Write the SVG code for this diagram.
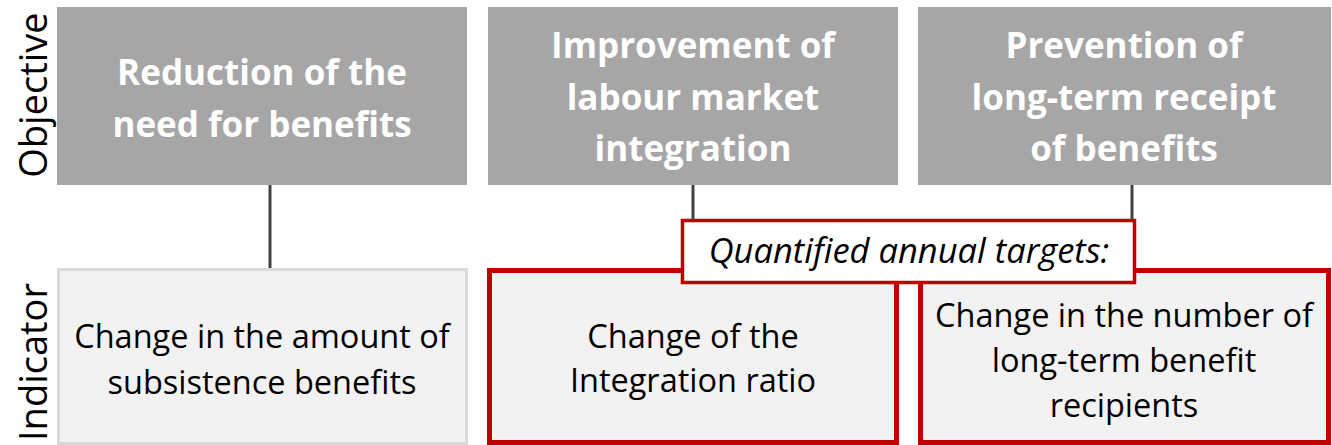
<svg xmlns="http://www.w3.org/2000/svg" width="1332" height="445" viewBox="0 0 1332 445">
<style>
.obj{fill:#a6a6a6}
.objt{font-family:"Open Sans",Lato,sans-serif;font-weight:bold;font-size:35px;fill:#ffffff;text-anchor:middle}
.ind{fill:#f2f2f2}
.indt{font-family:"Open Sans",Lato,sans-serif;font-size:32.5px;fill:#000000;text-anchor:middle}
.qt{font-family:"Open Sans",Lato,sans-serif;font-size:34.5px;font-style:italic;fill:#000000;text-anchor:middle}
.side{font-family:"Open Sans",Lato,sans-serif;font-size:38px;fill:#000000;text-anchor:middle}
.red{stroke:#c00000;stroke-width:5}
.conn{stroke:#404040;stroke-width:3;fill:none}
</style>
<rect width="1332" height="445" fill="#ffffff"/>
<text class="side" transform="translate(47,95) rotate(-90)">Objective</text>
<text class="side" transform="translate(47,362) rotate(-90)">Indicator</text>
<g id="connectors">
<line class="conn" x1="270" y1="185" x2="270" y2="268"/>
<line class="conn" x1="693" y1="185" x2="693" y2="219"/>
<line class="conn" x1="1132" y1="185" x2="1132" y2="219"/>
</g>
<g id="obj1">
<rect class="obj" x="57" y="7" width="410" height="178"/>
<text class="objt" x="262" y="85">Reduction of the</text>
<text class="objt" x="262" y="137">need for benefits</text>
</g>
<g id="obj2">
<rect class="obj" x="488" y="7" width="410" height="178"/>
<text class="objt" x="693" y="58">Improvement of</text>
<text class="objt" x="693" y="110">labour market</text>
<text class="objt" x="693" y="161">integration</text>
</g>
<g id="obj3">
<rect class="obj" x="918" y="7" width="413" height="178"/>
<text class="objt" x="1124" y="58">Prevention of</text>
<text class="objt" x="1124" y="110">long-term receipt</text>
<text class="objt" x="1124" y="161">of benefits</text>
</g>
<g id="ind1">
<rect class="ind" x="58.5" y="269.5" width="408" height="174" stroke="#d9d9d9" stroke-width="3"/>
<text class="indt" x="262" y="348">Change in the amount of</text>
<text class="indt" x="262" y="394">subsistence benefits</text>
</g>
<g id="ind2">
<rect class="ind red" x="489.5" y="270.5" width="407" height="172"/>
<text class="indt" x="693" y="348">Change of the</text>
<text class="indt" x="693" y="392">Integration ratio</text>
</g>
<g id="ind3">
<rect class="ind red" x="920.5" y="270.5" width="408" height="172"/>
<text class="indt" x="1124" y="327">Change in the number of</text>
<text class="indt" x="1124" y="372">long-term benefit</text>
<text class="indt" x="1124" y="417">recipients</text>
</g>
<g id="targets">
<rect x="682.5" y="220.5" width="452" height="62" fill="#ffffff" stroke="#c00000" stroke-width="3.5"/>
<text class="qt" x="909" y="263">Quantified annual targets:</text>
</g>
</svg>
